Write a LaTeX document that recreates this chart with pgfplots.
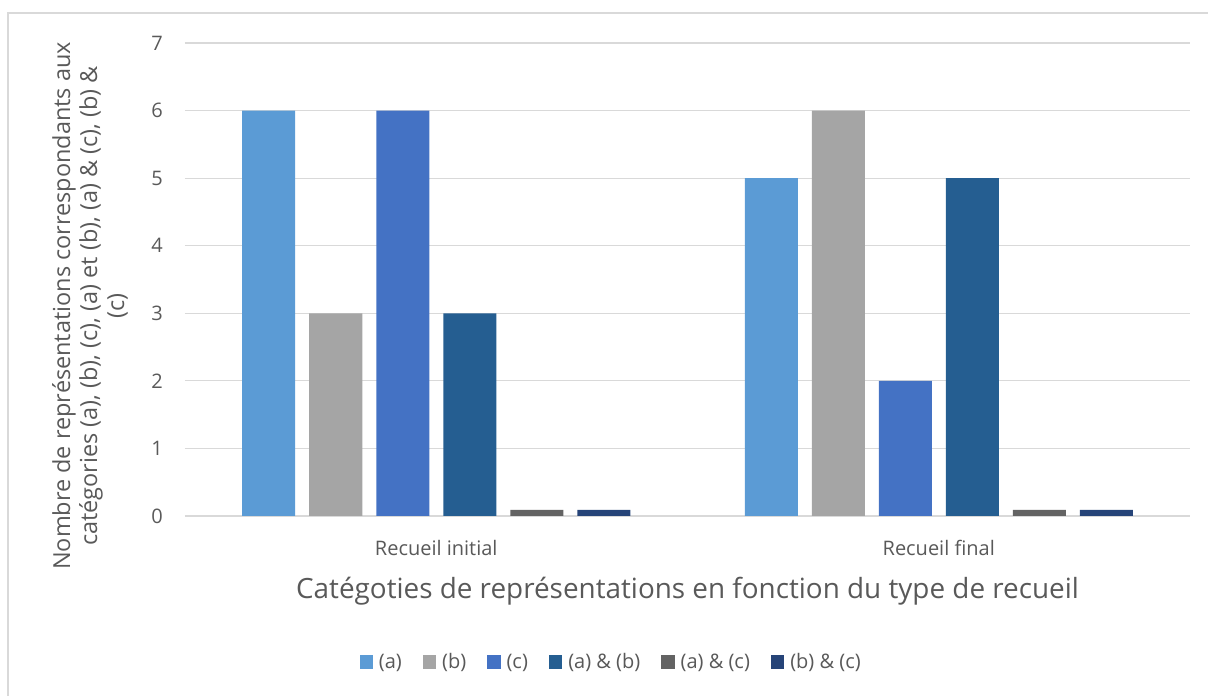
\documentclass[border=0pt]{standalone}
\usepackage{pgfplots}
\pgfplotsset{compat=1.18}
\usepackage{fontspec}
\setmainfont{Open Sans}
\definecolor{ca}{HTML}{5B9BD5}
\definecolor{cb}{HTML}{A5A5A5}
\definecolor{cc}{HTML}{4472C4}
\definecolor{cab}{HTML}{255E91}
\definecolor{cac}{HTML}{636363}
\definecolor{cbc}{HTML}{264478}
\definecolor{gridc}{HTML}{D9D9D9}
\definecolor{txt}{HTML}{595959}
\begin{document}
\begin{tikzpicture}
\path[use as bounding box] (0,0) rectangle (906pt,522pt);
\draw[gridc, line width=1pt] (6pt,0) |- (906pt,512.25pt);
\begin{axis}[
    at={(138.75pt,135pt)}, anchor=south west,
    scale only axis, width=753.75pt, height=354.75pt,
    ybar=10.5pt, bar width=39.75pt,
    xmin=-0.5, xmax=1.5, ymin=0, ymax=7,
    xtick={0,1}, xticklabels={Recueil initial, Recueil final},
    ytick={0,1,...,7},
    major tick length=0,
    axis line style={draw=none},
    ymajorgrids, grid style={gridc, line width=0.9pt},
    /pgf/number format/assume math mode=true,
    tick label style={font=\fontsize{15}{18}\selectfont, text=txt},
    x tick label style={anchor=center, yshift=-24pt},
    y tick label style={anchor=east, inner sep=0pt, xshift=-16.5pt},
    xlabel={Catégoties de représentations en fonction du type de recueil},
    xlabel style={at={(axis description cs:0.5,-0.158)}, anchor=center,
      font=\fontsize{20.9}{25}\selectfont, text=txt},
    ylabel={Nombre de représentations correspondants aux\\catégories (a), (b), (c), (a) et (b), (a) \& (c), (b) \&\\(c)},
    ylabel style={at={(axis description cs:-0.0945,0.444)}, anchor=center, rotate=0,
      align=center, font=\fontsize{17.6}{20.25}\selectfont, text=txt},
    legend columns=-1,
    legend style={at={(axis description cs:0.423,-0.309)}, anchor=center, draw=none,
      font=\fontsize{15}{18}\selectfont, text=txt,
      nodes={inner xsep=0pt},
      /tikz/every odd column/.append style={column sep=4.5pt},
      /tikz/every even column/.append style={column sep=15.75pt}},
    legend image code/.code={\fill[#1] (0pt,-5pt) rectangle (10pt,5pt);},
    every axis plot/.append style={draw=none},
]
\addplot[fill=ca] coordinates {(0,6) (1,5)};
\addplot[fill=cb] coordinates {(0,3) (1,6)};
\addplot[fill=cc] coordinates {(0,6) (1,2)};
\addplot[fill=cab] coordinates {(0,3) (1,5)};
\addplot[fill=cac] coordinates {(0,0.09) (1,0.09)};
\addplot[fill=cbc] coordinates {(0,0.09) (1,0.09)};
\legend{(a),(b),(c),(a) \& (b),(a) \& (c),(b) \& (c)}
\end{axis}
\end{tikzpicture}
\end{document}
